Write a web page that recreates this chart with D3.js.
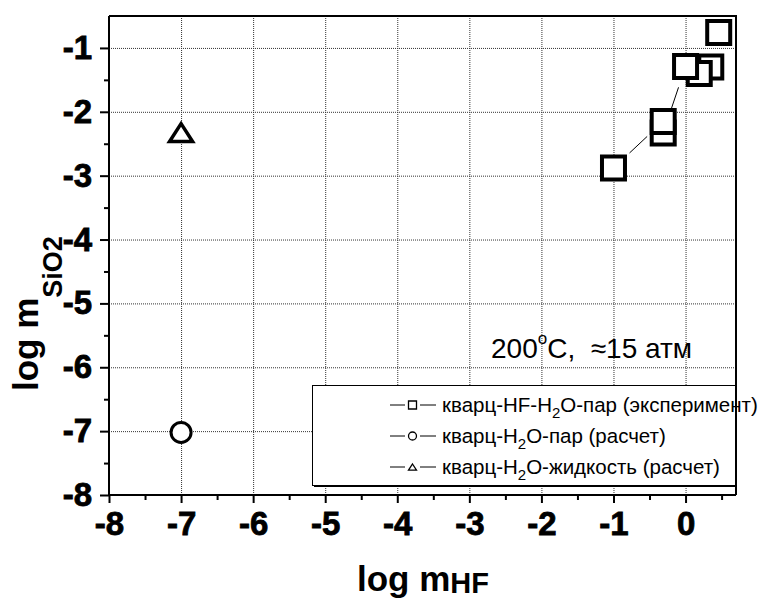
<!DOCTYPE html>
<html>
<head>
<meta charset="utf-8">
<script src="https://cdn.jsdelivr.net/npm/d3@7"></script>
<style>
  body { margin: 0; background: #fff; }
  svg { display: block; }
  text { font-family: Arial, "Liberation Sans", sans-serif; fill: #000; }
  .axis-major .tick text {
    font-family: Arial, "Liberation Sans", sans-serif;
    font-size: 33px;
    font-weight: 700;
    stroke: #000;
    stroke-width: 0.8px;
  }
</style>
</head>
<body>
<svg id="chart" width="762" height="600"></svg>
<script>
// Quartz solubility: log m(SiO2) against log m(HF), 200 °C, ~15 atm

// quartz–HF–H2O vapour, experiment (points in plotting order)
const expLogHF   = [0.46, 0.35, 0.19, 0.00, -0.31, -0.31, -1.00];
const expLogSiO2 = [-0.76, -1.30, -1.40, -1.29, -2.33, -2.15, -2.88];
// quartz–H2O vapour, calculated
const vaporLogHF   = [-7];
const vaporLogSiO2 = [-7.02];
// quartz–H2O liquid, calculated
const liquidLogHF   = [-7];
const liquidLogSiO2 = [-2.32];

const xTicks = [-8, -7, -6, -5, -4, -3, -2, -1, 0];
const yTicks = [-8, -7, -6, -5, -4, -3, -2, -1];
const xMinor = [-7.5, -6.5, -5.5, -4.5, -3.5, -2.5, -1.5, -0.5, 0.5];
const yMinor = [-7.5, -6.5, -5.5, -4.5, -3.5, -2.5, -1.5];

// legend captions split as [before subscript, subscript, after subscript]
const legendParts = [
  ["кварц-HF-H", "2", "O-пар (эксперимент)"],
  ["кварц-H", "2", "O-пар (расчет)"],
  ["кварц-H", "2", "O-жидкость (расчет)"]
];
const legendSymbols = ["square", "circle", "triangle"];

const svg = d3.select("#chart");
const plotLeft = 109, plotRight = 736, plotTop = 16, plotBottom = 495;

const x = d3.scaleLinear().domain([-8, 0.7]).range([plotLeft, plotRight]);
const y = d3.scaleLinear().domain([-8, -0.5]).range([plotBottom, plotTop]);

// dotted grid
const grid = svg.append("g");
grid.append("g")
  .attr("transform", `translate(0,${plotBottom})`)
  .call(d3.axisBottom(x).tickValues(xTicks.filter(d => d > -8)).tickSize(-(plotBottom - plotTop)).tickFormat(""))
  .call(g => g.select(".domain").remove());
grid.append("g")
  .attr("transform", `translate(${plotLeft},0)`)
  .call(d3.axisLeft(y).tickValues(yTicks.filter(d => d > -8)).tickSize(-(plotRight - plotLeft)).tickFormat(""))
  .call(g => g.select(".domain").remove());
grid.selectAll("line")
  .attr("stroke", "#333")
  .attr("stroke-width", 1)
  .attr("stroke-dasharray", "1,1");

// frame (top and right)
svg.append("path")
  .attr("d", `M${plotLeft},${plotTop}H${plotRight}V${plotBottom}`)
  .attr("fill", "none").attr("stroke", "#000").attr("stroke-width", 2);

// minor ticks
svg.append("g")
  .attr("transform", `translate(0,${plotBottom})`)
  .call(d3.axisBottom(x).tickValues(xMinor).tickSize(5).tickFormat(""))
  .call(g => g.select(".domain").remove())
  .selectAll("line").attr("stroke-width", 2);
svg.append("g")
  .attr("transform", `translate(${plotLeft},0)`)
  .call(d3.axisLeft(y).tickValues(yMinor).tickSize(5).tickFormat(""))
  .call(g => g.select(".domain").remove())
  .selectAll("line").attr("stroke-width", 2);

// major axes
const xAxis = svg.append("g")
  .attr("class", "axis-major")
  .attr("transform", `translate(0,${plotBottom})`)
  .call(d3.axisBottom(x).tickValues(xTicks).tickSize(8).tickPadding(9).tickFormat(d => String(d)).tickSizeOuter(0));
const yAxis = svg.append("g")
  .attr("class", "axis-major")
  .attr("transform", `translate(${plotLeft},0)`)
  .call(d3.axisLeft(y).tickValues(yTicks).tickSize(9).tickPadding(8).tickFormat(d => String(d)).tickSizeOuter(0));
xAxis.select(".domain").attr("stroke-width", 2).attr("d", `M${plotLeft - 1},0H${plotRight}`);
yAxis.select(".domain").attr("stroke-width", 2).attr("d", `M0,${plotBottom + 1}V${plotTop}`);
[xAxis, yAxis].forEach(a => {
  a.attr("font-size", 33).attr("font-weight", "bold").attr("font-family", "Arial, 'Liberation Sans', sans-serif");
  a.selectAll(".tick line").attr("stroke-width", 2);
});

// experimental series: connecting line with a gap around each symbol
const gap = 22;
const pts = expLogHF.map((v, i) => [x(v), y(expLogSiO2[i])]);
const segs = [];
for (let i = 0; i < pts.length - 1; i++) {
  const [x0, y0] = pts[i], [x1, y1] = pts[i + 1];
  const d = Math.hypot(x1 - x0, y1 - y0);
  if (d > 2 * gap) {
    const ux = (x1 - x0) / d, uy = (y1 - y0) / d;
    segs.push([[x0 + ux * gap, y0 + uy * gap], [x1 - ux * gap, y1 - uy * gap]]);
  }
}
svg.append("g").selectAll("line").data(segs).join("line")
  .attr("x1", d => d[0][0]).attr("y1", d => d[0][1])
  .attr("x2", d => d[1][0]).attr("y2", d => d[1][1])
  .attr("stroke", "#000").attr("stroke-width", 1);

// symbol shapes
function symbolPath(type, s) {
  if (type === "square") return `M${-s},${-s}H${s}V${s}H${-s}Z`;
  if (type === "triangle") return `M0,${-s * 0.75}L${s},${s * 0.8}H${-s}Z`;
  return d3.arc()({ innerRadius: 0, outerRadius: s, startAngle: 0, endAngle: 2 * Math.PI });
}

svg.append("g").selectAll("path").data(pts).join("path")
  .attr("transform", d => `translate(${d[0]},${d[1]})`)
  .attr("d", symbolPath("square", 11.5))
  .attr("fill", "#fff").attr("stroke", "#000").attr("stroke-width", 4)
  .attr("stroke-linejoin", "miter");

svg.append("g").selectAll("circle").data(vaporLogHF).join("circle")
  .attr("cx", d => x(d)).attr("cy", (d, i) => y(vaporLogSiO2[i]))
  .attr("r", 10)
  .attr("fill", "#fff").attr("stroke", "#000").attr("stroke-width", 3);

svg.append("g").selectAll("path").data(liquidLogHF).join("path")
  .attr("transform", (d, i) => `translate(${x(d)},${y(liquidLogSiO2[i])})`)
  .attr("d", symbolPath("triangle", 11.5))
  .attr("fill", "#fff").attr("stroke", "#000").attr("stroke-width", 3.5)
  .attr("stroke-linejoin", "miter");

// annotation
const note = svg.append("text").attr("x", 491).attr("y", 358).style("font-size", "28px");
note.append("tspan").text("200");
note.append("tspan").style("font-size", "17px").attr("dy", -14).text("o");
note.append("tspan").attr("dy", 14).text("C,\u00A0\u00A0≈15 атм");

// legend
const lg = svg.append("g");
const lx = 312.5, ly = 385.5, lw = 423, lh = 100;
lg.append("rect").attr("x", lx + 1.5).attr("y", ly + 1.5).attr("width", lw).attr("height", lh).attr("fill", "#000");
lg.append("rect").attr("x", lx).attr("y", ly).attr("width", lw).attr("height", lh)
  .attr("fill", "#fff").attr("stroke", "#000").attr("stroke-width", 1);

const rowY = [405, 436, 467];
legendParts.forEach((parts, i) => {
  const cy = rowY[i];
  lg.append("line").attr("x1", 390).attr("x2", 405).attr("y1", cy).attr("y2", cy).attr("stroke", "#000").attr("stroke-width", 1);
  lg.append("line").attr("x1", 420).attr("x2", 436).attr("y1", cy).attr("y2", cy).attr("stroke", "#000").attr("stroke-width", 1);
  const t = legendSymbols[i];
  if (t === "circle") {
    lg.append("circle").attr("cx", 412.5).attr("cy", cy).attr("r", 4)
      .attr("fill", "#fff").attr("stroke", "#000").attr("stroke-width", 1.3);
  } else {
    lg.append("path").attr("transform", `translate(412.5,${cy})`)
      .attr("d", symbolPath(t, 4))
      .attr("fill", "#fff").attr("stroke", "#000").attr("stroke-width", 1.3);
  }
  const tx = lg.append("text").attr("x", 442).attr("y", cy + 7).style("font-size", "20.5px");
  tx.append("tspan").text(parts[0]);
  tx.append("tspan").style("font-size", "15px").attr("dy", 6).text(parts[1]);
  tx.append("tspan").attr("dy", -6).text(parts[2]);
});

// axis titles
const xt = svg.append("text").attr("x", 357).attr("y", 591)
  .style("font-size", "35px").style("font-weight", "bold");
xt.append("tspan").text("log m");
xt.append("tspan").style("font-size", "29px").attr("dy", 2).text("HF");

const yt = svg.append("text").attr("transform", "translate(38,391) rotate(-90)")
  .style("font-size", "35px").style("font-weight", "bold");
yt.append("tspan").text("log m");
yt.append("tspan").style("font-size", "27px").attr("dy", 24).text("SiO2");
</script>
</body>
</html>
